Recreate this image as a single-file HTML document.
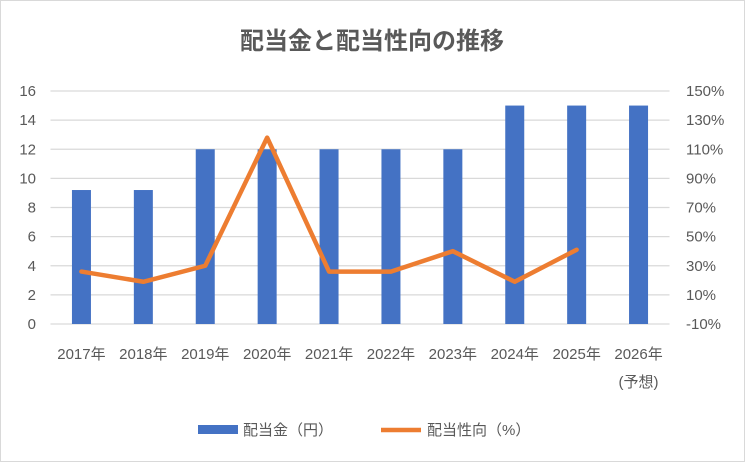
<!DOCTYPE html>
<html><head><meta charset="utf-8"><style>
body{margin:0;background:#fff}
svg{display:block;font-family:"Liberation Sans","Noto Sans CJK JP",sans-serif}
</style></head><body>
<svg id="c" width="745" height="462">
<rect x="0.5" y="0.5" width="744" height="461" fill="#fff" stroke="#d9d9d9"/>
<text x="372" y="49" text-anchor="middle" font-size="24" font-weight="bold" fill="#595959">配当金と配当性向の推移</text>
<g id="grid"></g><g id="bars"></g><g id="line"></g><g id="axes"></g>
<g>
<rect x="198" y="425" width="40" height="9" fill="#4472c4"/>
<text x="243" y="435" font-size="15" fill="#595959">配当金（円）</text>
<line x1="381" y1="430" x2="421" y2="430" stroke="#ed7d31" stroke-width="4.5"/>
<text x="427" y="435" font-size="15" fill="#595959">配当性向（%）</text>
</g>
</svg>
<script>
const categories=["2017年","2018年","2019年","2020年","2021年","2022年","2023年","2024年","2025年","2026年"];
const dividends=[9.2,9.2,12,12,12,12,12,15,15,15];
const payout=[26,19,30,118,26,26,40,19,41,null];
const leftTicks=[0,2,4,6,8,10,12,14,16];
const rightTicks=[-10,10,30,50,70,90,110,130,150];
const NS="http://www.w3.org/2000/svg";
const L=50.5,R=669.5,T=91,B=324;
const bw=(R-L)/categories.length;
const x=i=>L+bw*(i+0.5);
const yL=v=>B-(v/16)*(B-T);
const yR=v=>B-((v+10)/160)*(B-T);
function mk(tag,attrs,parent,text){const e=document.createElementNS(NS,tag);for(const k in attrs)e.setAttribute(k,attrs[k]);if(text!==undefined)e.textContent=text;document.getElementById(parent).appendChild(e);return e;}
leftTicks.forEach((t,i)=>{
 const g=mk("line",{x1:L,x2:R,y1:yL(t),y2:yL(t),stroke:"#d9d9d9","stroke-width":1.2},"grid");
 
 
 const a=mk("text",{x:36,y:yL(t)+5,"text-anchor":"end","font-size":15,fill:"#595959"},"axes",t);
 
 
});
rightTicks.forEach(t=>{
 const a=mk("text",{x:686,y:yR(t)+5,"font-size":15,fill:"#595959"},"axes",t+"%");
 
 
});
categories.forEach((c,i)=>{
 const b=mk("rect",{x:x(i)-9.5,y:yL(dividends[i]),width:19,height:B-yL(dividends[i]),fill:"#4472c4"},"bars");
 
 
 const t=mk("text",{x:x(i),y:359,"text-anchor":"middle","font-size":15,fill:"#595959"},"axes",c);
 
 
});
const s=mk("text",{x:x(9),y:387,"text-anchor":"middle","font-size":15,fill:"#595959"},"axes","(予想)");


let pts=[];payout.forEach((v,i)=>{if(v!==null)pts.push(x(i)+","+yR(v));});
const pl=mk("polyline",{points:pts.join(" "),fill:"none",stroke:"#ed7d31","stroke-width":4.5,"stroke-linejoin":"round","stroke-linecap":"round"},"line");


</script>
</body></html>
